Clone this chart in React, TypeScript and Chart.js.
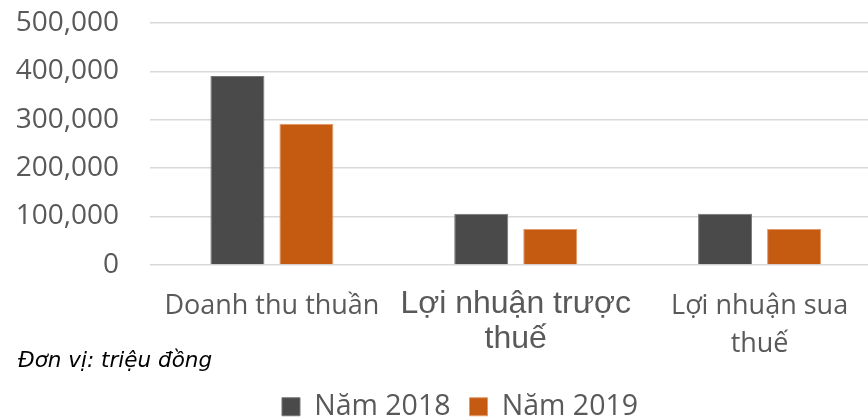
import React, { useEffect, useRef } from "react";
import { Chart, registerables } from "chart.js";

Chart.register(...registerables);

const categories: string[][] = [
  ["Doanh thu thuần"],
  ["Lợi nhuận trược", "thuế"],
  ["Lợi nhuận sua", "thuế"],
];
const series2018: number[] = [390700, 105800, 105700];
const series2019: number[] = [291900, 74100, 74000];
const seriesNames: string[] = ["Năm 2018", "Năm 2019"];
const yTicks: number[] = [0, 100000, 200000, 300000, 400000, 500000];
const noteText = "Đơn vị: triệu đồng";

const COLOR_2018 = "#4a4a4a";
const COLOR_2019 = "#c55a11";
const TEXT = "#595959";

const notePlugin = {
  id: "unitNote",
  afterDraw(chart: any) {
    const c = chart.ctx;
    c.save();
    c.font = 'italic 21.5px "DejaVu Sans"';
    c.fillStyle = "#000000";
    c.textAlign = "left";
    c.textBaseline = "alphabetic";
    c.fillText(noteText, 18, 367);
    c.restore();
  },
};

export default function App() {
  const ref = useRef<HTMLCanvasElement | null>(null);

  useEffect(() => {
    if (!ref.current) return;
    const chart = new Chart(ref.current, {
      type: "bar",
      data: {
        labels: categories,
        datasets: [
          {
            label: seriesNames[0],
            data: series2018,
            backgroundColor: COLOR_2018,
            borderColor: "#767676",
            borderWidth: 1,
            categoryPercentage: 0.566,
            barPercentage: 0.783,
          },
          {
            label: seriesNames[1],
            data: series2019,
            backgroundColor: COLOR_2019,
            borderColor: "#e49a66",
            borderWidth: 1,
            categoryPercentage: 0.566,
            barPercentage: 0.783,
          },
        ],
      },
      options: {
        animation: false,
        responsive: false,
        maintainAspectRatio: false,
        layout: { padding: { top: 23, left: 0, right: 0, bottom: 0 } },
        plugins: {
          legend: {
            position: "bottom",
            labels: {
              color: TEXT,
              font: { family: '"Open Sans", sans-serif', size: 28.5, lineHeight: 1.137 },
              boxWidth: 18,
              boxHeight: 18,
              padding: 19,
            },
          },
          tooltip: { enabled: false },
          title: { display: false },
        },
        scales: {
          x: {
            grid: { display: false, drawTicks: false },
            border: { display: false },
            ticks: {
              color: TEXT,
              padding: 22,
              maxRotation: 0,
              autoSkip: false,
              font: (ctx: any) =>
                ctx.index === 1
                  ? { family: '"Liberation Sans", Arial, sans-serif', size: 32, lineHeight: "35px" }
                  : { family: '"Open Sans", sans-serif', size: 27, lineHeight: "38px" },
            },
            afterFit: (scale: any) => {
              scale.height = 108.6;
            },
          },
          y: {
            min: 0,
            max: 500000,
            afterBuildTicks: (scale: any) => {
              scale.ticks = yTicks.map((v) => ({ value: v }));
            },
            grid: { color: "#d9d9d9", lineWidth: 1.5, drawTicks: false },
            border: { display: false },
            ticks: {
              color: TEXT,
              padding: 31,
              font: { family: '"Open Sans", sans-serif', size: 28 },
              callback: (v: any) => Number(v).toLocaleString("en-US"),
            },
            afterFit: (scale: any) => {
              scale.width = 150;
              scale.paddingTop = 0;
              scale.paddingBottom = 0;
            },
          },
          yRightSpacer: {
            type: "linear",
            position: "right",
            display: true,
            grid: { display: false, drawTicks: false },
            border: { display: false },
            ticks: { display: false },
            afterFit: (scale: any) => {
              scale.width = 38.5;
              scale.paddingTop = 0;
              scale.paddingBottom = 0;
            },
          },
        },
      },
      plugins: [notePlugin],
    });
    return () => chart.destroy();
  }, []);

  return (
    <div
      style={{
        position: "fixed",
        left: 0,
        top: 0,
        width: 868,
        height: 418,
        overflow: "hidden",
        background: "#ffffff",
      }}
    >
      <canvas ref={ref} width={920} height={431} style={{ width: 920, height: 431, display: "block" }} />
    </div>
  );
}
